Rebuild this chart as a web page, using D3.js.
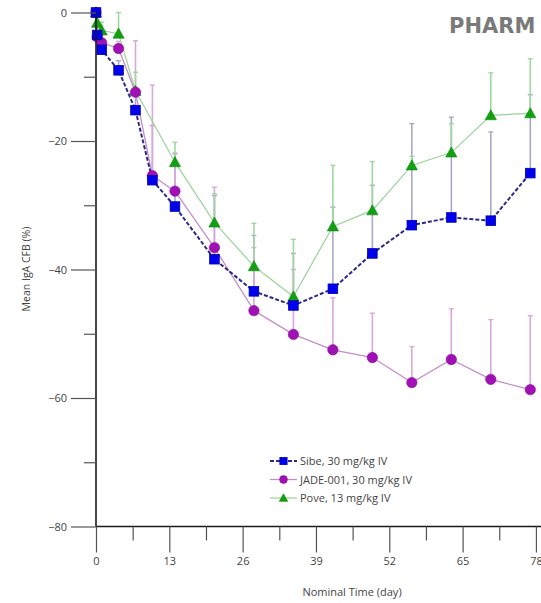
<!DOCTYPE html>
<html><head><meta charset="utf-8">
<script src="https://cdn.jsdelivr.net/npm/d3@7"></script>
<style>body{margin:0;background:#fff}svg{display:block}</style>
</head><body>
<svg id="c" width="541" height="603"></svg>
<script>
const days = [0, 0.2, 1, 4, 7, 10, 14, 21, 28, 35, 42, 49, 56, 63, 70, 77];
const sibe = [0, -3.5, -5.8, -9.0, -15.2, -26.1, -30.2, -38.4, -43.4, -45.6, -43.0, -37.5, -33.1, -31.9, -32.4, -25.0];
const sibeTop = [null, null, -4.5, -7.5, -12.5, -17.6, -21.9, -28.5, -34.7, -37.5, -30.3, -26.9, -17.3, -16.3, -18.6, -12.8];
const jade = [0, -3.8, -4.7, -5.6, -12.4, -25.4, -27.8, -36.6, -46.4, -50.1, -52.5, -53.7, -57.6, -54.0, -57.1, -58.7];
const jadeTop = [null, -2.5, -3.5, -4.5, -4.4, -11.3, -22.0, -27.2, -36.6, -40.0, -44.4, -46.8, -52.0, -46.1, -47.8, -47.2];
const pove = [0, -1.6, -2.8, -3.3, -12.2, null, -23.3, -32.7, -39.5, -44.2, -33.3, -30.8, -23.8, -21.8, -16.0, -15.7];
const poveTop = [null, -0.5, -1.5, 0.0, -9.3, null, -20.2, -28.2, -32.8, -35.3, -23.8, -23.2, -22.4, -17.3, -9.4, -7.2];
const xTicks = [0, 13, 26, 39, 52, 65, 78];
const yTicks = [0, -20, -40, -60, -80];
const seriesNames = ["Sibe, 30 mg/kg IV", "JADE-001, 30 mg/kg IV", "Pove, 13 mg/kg IV"];

const svg = d3.select("#c");
const x = d3.scaleLinear().domain([0, 78.9]).range([96, 541]);
const y = d3.scaleLinear().domain([0, -80]).range([12.5, 526.5]);
const font = "'Open Sans', 'DejaVu Sans', sans-serif";

const series = [
  {vals: sibe, top: sibeTop, line: "#2b2b86", dash: "4,2", lw: 2, err: "#a8a8cc", marker: "square", fill: "#0000ee", stroke: "#0000aa"},
  {vals: jade, top: jadeTop, line: "#c58ccb", dash: null, lw: 1.3, err: "#d9a9dc", marker: "circle", fill: "#a010b4", stroke: "#8a0a9c"},
  {vals: pove, top: poveTop, line: "#9ad39a", dash: null, lw: 1.2, err: "#9fd89f", marker: "triangle", fill: "#10a010", stroke: "#0a8a0a"}
];

// error bars (drawn first)
series.forEach(s => {
  const g = svg.append("g");
  days.forEach((d, i) => {
    if (s.vals[i] == null || s.top[i] == null) return;
    const px = x(d);
    g.append("line").attr("x1", px).attr("x2", px)
      .attr("y1", y(s.vals[i])).attr("y2", y(s.top[i]))
      .attr("stroke", s.err).attr("stroke-width", 1.6);
    g.append("line").attr("x1", px - 2.5).attr("x2", px + 2.5)
      .attr("y1", y(s.top[i])).attr("y2", y(s.top[i]))
      .attr("stroke", s.err).attr("stroke-width", 1.4);
  });
});

// lines, back to front: pove, jade, sibe
[2, 1, 0].forEach(k => {
  const s = series[k];
  const pts = days.map((d, i) => [d, s.vals[i]]).filter(p => p[1] != null);
  svg.append("path").datum(pts)
    .attr("d", d3.line().x(p => x(p[0])).y(p => y(p[1])))
    .attr("fill", "none").attr("stroke", s.line).attr("stroke-width", s.lw)
    .attr("stroke-dasharray", s.dash);
});

function drawMarker(g, s, px, py, scale) {
  const sc = scale || 1;
  if (s.marker === "square") {
    const h = 4.8 * sc;
    g.append("rect").attr("x", px - h).attr("y", py - h).attr("width", 2 * h).attr("height", 2 * h)
      .attr("fill", s.fill).attr("stroke", s.stroke).attr("stroke-width", 0.8);
  } else if (s.marker === "circle") {
    g.append("circle").attr("cx", px).attr("cy", py).attr("r", 5.2 * sc)
      .attr("fill", s.fill).attr("stroke", s.stroke).attr("stroke-width", 0.6);
  } else {
    const h = 5.6 * sc;
    g.append("path").attr("d", `M${px},${py - h}L${px + h},${py + h * 0.8}L${px - h},${py + h * 0.8}Z`)
      .attr("fill", s.fill).attr("stroke", s.stroke).attr("stroke-width", 0.6);
  }
}

// markers: pove, jade, sibe
[2, 1, 0].forEach(k => {
  const s = series[k];
  const g = svg.append("g");
  days.forEach((d, i) => {
    if (s.vals[i] == null) return;
    drawMarker(g, s, x(d), y(s.vals[i]));
  });
});

// Axes
const ax = svg.append("g").attr("stroke", "#1a1a1a");
ax.append("line").attr("x1", x(0)).attr("x2", 541).attr("y1", y(-80)).attr("y2", y(-80)).attr("stroke-width", 1.6);
ax.append("line").attr("x1", x(0)).attr("x2", x(0)).attr("y1", y(0) - 2).attr("y2", y(-80)).attr("stroke-width", 1.6);

const xAxis = d3.axisBottom(x).tickValues(xTicks).tickSize(26).tickPadding(5).tickFormat(d3.format("d"));
const gx = svg.append("g").attr("transform", `translate(0,${y(-80)})`).call(xAxis);
gx.select(".domain").remove();
gx.selectAll(".tick line").attr("stroke", "#555").attr("stroke-width", 1.2);
gx.selectAll(".tick text").attr("font-family", font).attr("font-size", 11).attr("fill", "#444");
const xMinor = d3.axisBottom(x).tickValues(xTicks.map(t => t + 6.5).filter(t => t < 78.9)).tickSize(14).tickFormat("");
const gxm = svg.append("g").attr("transform", `translate(0,${y(-80)})`).call(xMinor);
gxm.select(".domain").remove();
gxm.selectAll(".tick line").attr("stroke", "#555").attr("stroke-width", 1.2);

const yAxis = d3.axisLeft(y).tickValues(yTicks).tickSize(25).tickPadding(4).tickFormat(d3.format("d"));
const gy = svg.append("g").attr("transform", `translate(${x(0)},0)`).call(yAxis);
gy.select(".domain").remove();
gy.selectAll(".tick line").attr("stroke", "#555").attr("stroke-width", 1.2);
gy.selectAll(".tick text").attr("font-family", font).attr("font-size", 11).attr("fill", "#444");
const yMinor = d3.axisLeft(y).tickValues([-10, -30, -50, -70]).tickSize(12).tickFormat("");
const gym = svg.append("g").attr("transform", `translate(${x(0)},0)`).call(yMinor);
gym.select(".domain").remove();
gym.selectAll(".tick line").attr("stroke", "#555").attr("stroke-width", 1.2);

// axis titles
svg.append("text").attr("x", 352).attr("y", 596).attr("text-anchor", "middle")
  .attr("font-family", font).attr("font-size", 11).attr("fill", "#444").text("Nominal Time (day)");
svg.append("text").attr("transform", "translate(30,269) rotate(-90)").attr("text-anchor", "middle")
  .attr("font-family", font).attr("font-size", 10.5).attr("fill", "#444").text("Mean IgA CFB (%)");

// legend
const lg = svg.append("g");
seriesNames.forEach((name, i) => {
  const s = series[i];
  const ly = 461 + i * 18.5;
  lg.append("line").attr("x1", 270).attr("x2", 297).attr("y1", ly).attr("y2", ly)
    .attr("stroke", s.line).attr("stroke-width", s.lw).attr("stroke-dasharray", s.dash);
  drawMarker(lg, s, 283.5, ly, 0.75);
  lg.append("text").attr("x", 300).attr("y", ly + 4).attr("font-family", font).attr("font-size", 11)
    .attr("fill", "#444").text(name);
});

// watermark
svg.append("text").attr("x", 449).attr("y", 33).attr("font-family", "'DejaVu Sans', sans-serif")
  .attr("font-weight", "bold").attr("font-size", 21).attr("fill", "#7a7a7a").text("PHARM");
</script>
</body></html>
